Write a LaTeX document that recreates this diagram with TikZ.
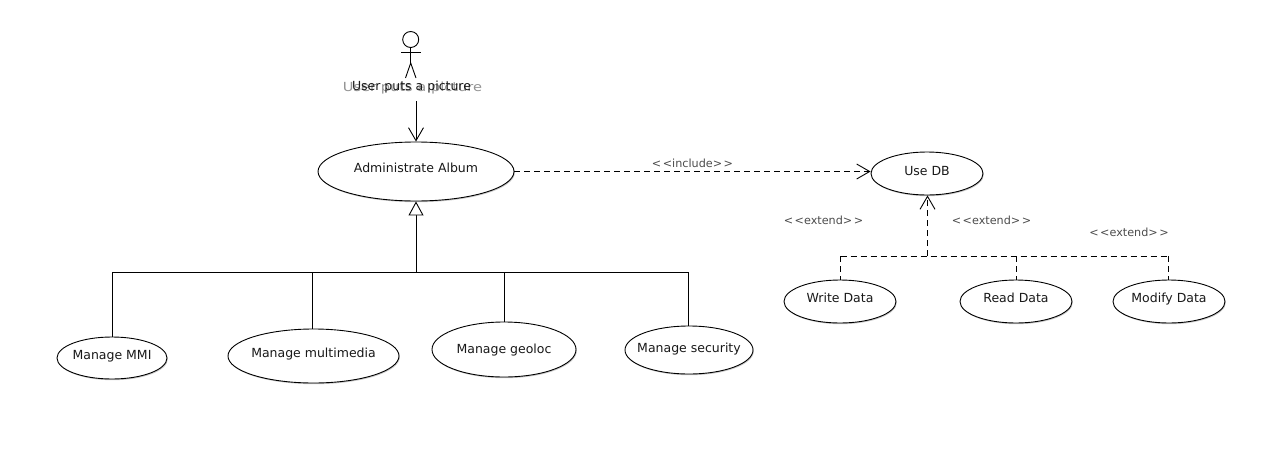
\documentclass[tikz,border=0pt]{standalone}
\usepackage{fontspec}
\setmainfont{DejaVu Sans}
\usetikzlibrary{arrows.meta,shadows,shapes.geometric}
\newcommand{\lifted}[2]{\raisebox{#1pt}[0pt][0pt]{\makebox[0pt][c]{#2}}}
\newcommand{\stereotype}[1]{<\kern1.5pt<#1>\kern1.5pt>}
\tikzset{
  uc/.style={ellipse,draw=black,line width=0.9pt,fill=white,inner sep=0pt,
    drop shadow={shadow xshift=0.8pt,shadow yshift=-1.2pt,fill=black!35,opacity=0.6},
    font=\fontsize{12.5}{14}\selectfont,text=black!90},
  stereo/.style={inner sep=0pt,font=\fontsize{11.2}{13}\selectfont,text=black!70},
  wire/.style={line width=0.9pt,draw=black},
  dashwire/.style={wire,dash pattern=on 6pt off 4pt},
  opentip/.style={-{Straight Barb[length=13pt,width=15pt,line width=0.9pt]}},
  gentip/.style={-{Triangle[open,fill=white,length=14pt,width=15pt,line width=0.9pt]}},
  limb/.style={line width=0.9pt,draw=black}
}
\begin{document}
\begin{tikzpicture}[x=1pt,y=-1pt]
\useasboundingbox (0,0) rectangle (1281,474);
\fill[white] (0,0) rectangle (1281,474);
% actor
\node[circle,draw=black,line width=0.9pt,minimum size=16pt,inner sep=0pt] (head) at (410.7,39.5) {};
\coordinate (neck) at (410.7,47.5);
\coordinate (hip) at (410.7,63);
\coordinate (larm) at (401,52.7);
\coordinate (rarm) at (421,52.7);
\coordinate (lfoot) at (405.5,78);
\coordinate (rfoot) at (416,78);
\draw[limb] (neck) -- (hip);
\draw[limb] (larm) -- (rarm);
\draw[limb] (lfoot) -- (hip) -- (rfoot);
\node[inner sep=0pt,text=black!42,font=\fontsize{12.5}{14}\selectfont,xscale=1.17,transform shape] (ghost) at (412.5,88) {User puts a picture};
\node[inner sep=0pt,font=\fontsize{12.5}{14}\selectfont,text=black!90] (actor) at (411.5,87) {User puts a picture};
\coordinate (actorout) at (416,101);
% use cases
\node[uc,minimum width=196pt,minimum height=59pt] (album) at (416,171.5) {\lifted{-1.2}{Administrate Album}};
\node[uc,minimum width=112pt,minimum height=43pt] (db) at (927,173.5) {\lifted{-2}{Use DB}};
\node[uc,minimum width=112pt,minimum height=43pt] (write) at (840,301.5) {\lifted{-1}{Write Data}};
\node[uc,minimum width=112pt,minimum height=43pt] (read) at (1016,301.5) {\lifted{-1}{Read Data}};
\node[uc,minimum width=112pt,minimum height=43pt] (modify) at (1169,301.5) {\lifted{-1}{Modify Data}};
\node[uc,minimum width=110pt,minimum height=42pt] (mmi) at (112,358) {\lifted{-1}{Manage MMI}};
\node[uc,minimum width=171pt,minimum height=54pt] (mm) at (313.5,356) {\lifted{-1}{Manage multimedia}};
\node[uc,minimum width=144pt,minimum height=55pt] (geo) at (504,349.5) {\lifted{-4}{Manage geoloc}};
\node[uc,minimum width=128pt,minimum height=48pt] (sec) at (689,350) {\lifted{-2}{Manage security}};
% labels
\node[stereo] (inc) at (692.5,163) {\stereotype{include}};
\node[stereo] (ex1) at (823.5,220) {\stereotype{extend}};
\node[stereo] (ex2) at (991.5,220.5) {\stereotype{extend}};
\node[stereo] (ex3) at (1129,232.5) {\stereotype{extend}};
% connectors
\draw[wire,opentip] (actorout) -- (album.north);
\coordinate (gen) at (416,272);
\coordinate (genl) at (112,272);
\coordinate (genm) at (312.5,272);
\coordinate (geng) at (504,272);
\coordinate (genr) at (688.5,272);
\draw[wire,gentip] (gen) -- (album.south);
\draw[wire] (genl) -- (genr);
\draw[wire] (genl) -- (mmi.north);
\draw[wire] (genm) -- (genm |- mm.north);
\draw[wire] (geng) -- (geng |- geo.north);
\draw[wire] (genr) -- (genr |- sec.north);
\draw[dashwire,opentip] (album.east) -- (db.west |- album.east);
\coordinate (ext) at (927.5,256);
\coordinate (extl) at (840.5,256);
\coordinate (extm) at (1016.5,256);
\coordinate (extr) at (1168.5,256);
\draw[dashwire,opentip] (ext) -- (db.south -| ext);
\draw[dashwire] (extl) -- (extr);
\draw[dashwire] (extl) -- (extl |- write.north);
\draw[dashwire] (extm) -- (extm |- read.north);
\draw[dashwire] (extr) -- (extr |- modify.north);
\end{tikzpicture}
\end{document}
